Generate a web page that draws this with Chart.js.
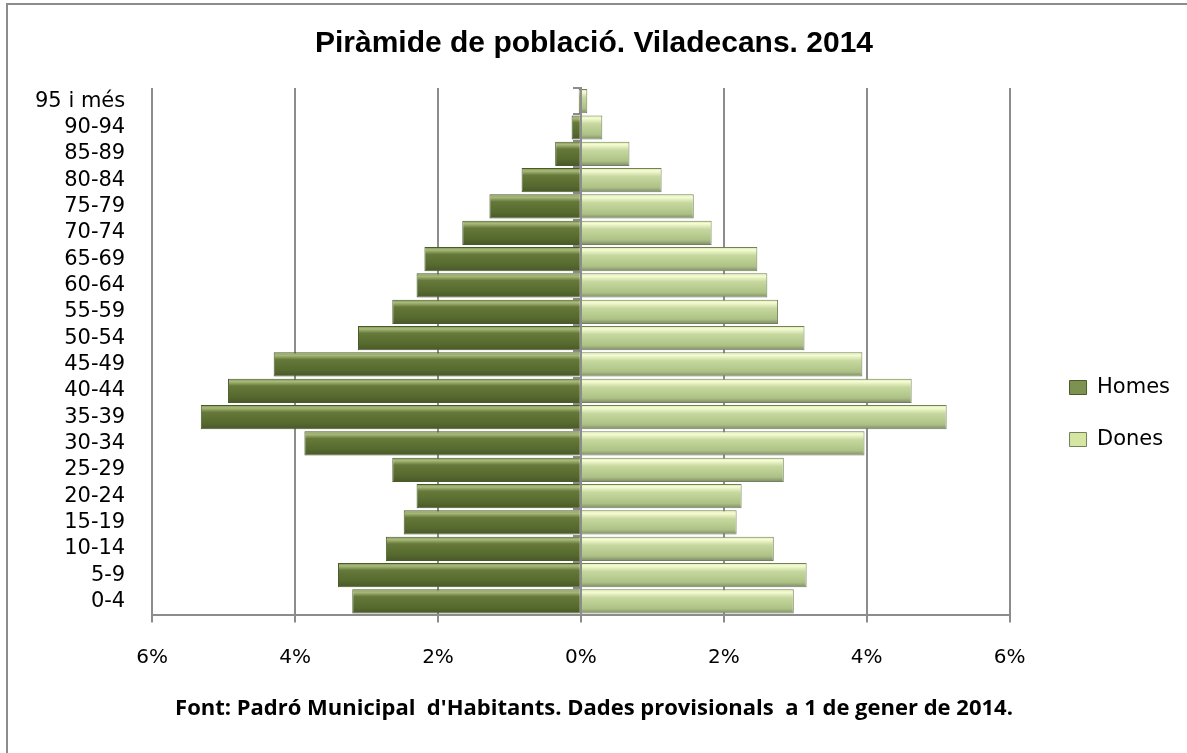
<!DOCTYPE html>
<html>
<head>
<meta charset="utf-8">
<script src="https://cdn.jsdelivr.net/npm/chart.js@4/dist/chart.umd.min.js"></script>
<style>
  body { margin: 0; background: #fff; }
  #frame { position: absolute; left: 6px; top: 3px; width: 1200px; height: 800px;
           border-left: 2px solid #8c8c8c; border-top: 2px solid #8c8c8c; }
  #wrap { position: absolute; left: 0; top: 0; width: 1187px; height: 753px; }
</style>
</head>
<body>
<div id="frame"></div>
<div id="wrap"><canvas id="piramide"></canvas></div>
<script>
// age groups, bottom to top
var ages = ["0-4","5-9","10-14","15-19","20-24","25-29","30-34","35-39","40-44","45-49",
            "50-54","55-59","60-64","65-69","70-74","75-79","80-84","85-89","90-94","95 i més"];
// % of total population
var homes = [3.20,3.40,2.73,2.48,2.30,2.64,3.87,5.32,4.94,4.30,
             3.12,2.64,2.30,2.19,1.66,1.28,0.83,0.36,0.13,0.03];
var dones = [2.98,3.16,2.70,2.18,2.25,2.84,3.97,5.12,4.63,3.94,
             3.13,2.76,2.61,2.47,1.83,1.58,1.13,0.68,0.30,0.09];
var xTicks = [-6,-4,-2,0,2,4,6];

var barPct = 0.92;

function barGradient(c, stops, fallback) {
  var chart = c.chart;
  var y = chart.scales && chart.scales.y;
  if (!chart.chartArea || !y || c.dataIndex === undefined) return fallback;
  var mid = y.getPixelForValue(c.dataIndex);
  var half = (y.height / ages.length) * barPct / 2;
  var g = chart.ctx.createLinearGradient(0, mid - half, 0, mid + half);
  stops.forEach(function (s) { g.addColorStop(s[0], s[1]); });
  return g;
}

var homesStops = [[0,"#7d9150"],[0.12,"#a8bb7a"],[0.3,"#66793a"],[0.75,"#56692e"],[1,"#48572a"]];
var donesStops = [[0,"#d5e6a3"],[0.12,"#f6fcd4"],[0.35,"#c6d89e"],[0.8,"#adc185"],[1,"#7d896a"]];

var ctx = document.getElementById("piramide");
var chart = new Chart(ctx, {
  type: "bar",
  data: {
    labels: ages,
    datasets: [{
      label: "Homes",
      data: homes.map(function (v) { return -v; }),
      backgroundColor: function (c) { return barGradient(c, homesStops, "#56692e"); },
      borderColor: "#4a5a28",
      borderWidth: 1,
      barPercentage: 1,
      categoryPercentage: barPct
    }, {
      label: "Dones",
      data: dones,
      backgroundColor: function (c) { return barGradient(c, donesStops, "#b5c98a"); },
      borderColor: "#74805c",
      borderWidth: 1,
      barPercentage: 1,
      categoryPercentage: barPct
    }]
  },
  options: {
    indexAxis: "y",
    responsive: true,
    maintainAspectRatio: false,
    animation: false,
    layout: { padding: { left: 8, right: 7, top: 0, bottom: 0 } },
    scales: {
      x: {
        stacked: true,
        min: -6, max: 6,
        afterBuildTicks: function (s) { s.ticks = xTicks.map(function (v) { return { value: v }; }); },
        grid: { color: "#8c8c8c", lineWidth: 2, tickLength: 8, drawTicks: true },
        border: { display: true, color: "#8c8c8c", width: 2 },
        ticks: {
          padding: 23,
          color: "#000",
          font: { family: "DejaVu Sans", size: 20 },
          callback: function (v) { return Math.abs(v) + "%"; }
        }
      },
      y: {
        stacked: true,
        reverse: true,
        grid: { display: false, drawTicks: false },
        border: { display: false },
        ticks: { padding: 27, color: "#000", font: { family: "DejaVu Sans", size: 21 }, autoSkip: false }
      },
      // category axis line with small tick marks on the 0% line
      mid: {
        type: "category",
        axis: "y",
        labels: ages,
        reverse: true,
        offset: true,
        position: { x: 0 },
        z: 1,
        grid: { offset: true, drawOnChartArea: false, drawTicks: true, tickLength: 7, color: "#8c8c8c", lineWidth: 2 },
        border: { display: true, color: "#8c8c8c", width: 2 },
        ticks: { display: false }
      },
      gap: {
        position: "right",
        grid: { display: false, drawTicks: false },
        border: { display: false },
        ticks: { display: false },
        afterFit: function (s) { s.width = 29; }
      }
    },
    plugins: {
      title: {
        display: true,
        text: "Piràmide de població. Viladecans. 2014",
        color: "#000",
        font: { family: "Liberation Sans", size: 30, weight: "bold" },
        padding: { top: 26, bottom: 26 }
      },
      subtitle: {
        display: true,
        position: "bottom",
        text: "Font: Padró Municipal  d'Habitants. Dades provisionals  a 1 de gener de 2014.",
        color: "#000",
        font: { family: "Open Sans", size: 22, weight: "bold" },
        padding: { top: 3, bottom: 31 }
      },
      legend: {
        position: "right",
        title: { display: true, text: " ", font: { size: 20 }, padding: 25 },
        labels: {
          color: "#000",
          font: { family: "DejaVu Sans", size: 21 },
          boxWidth: 17, boxHeight: 14,
          padding: 31
        }
      },
      tooltip: { enabled: false }
    }
  }
});
</script>
</body>
</html>
